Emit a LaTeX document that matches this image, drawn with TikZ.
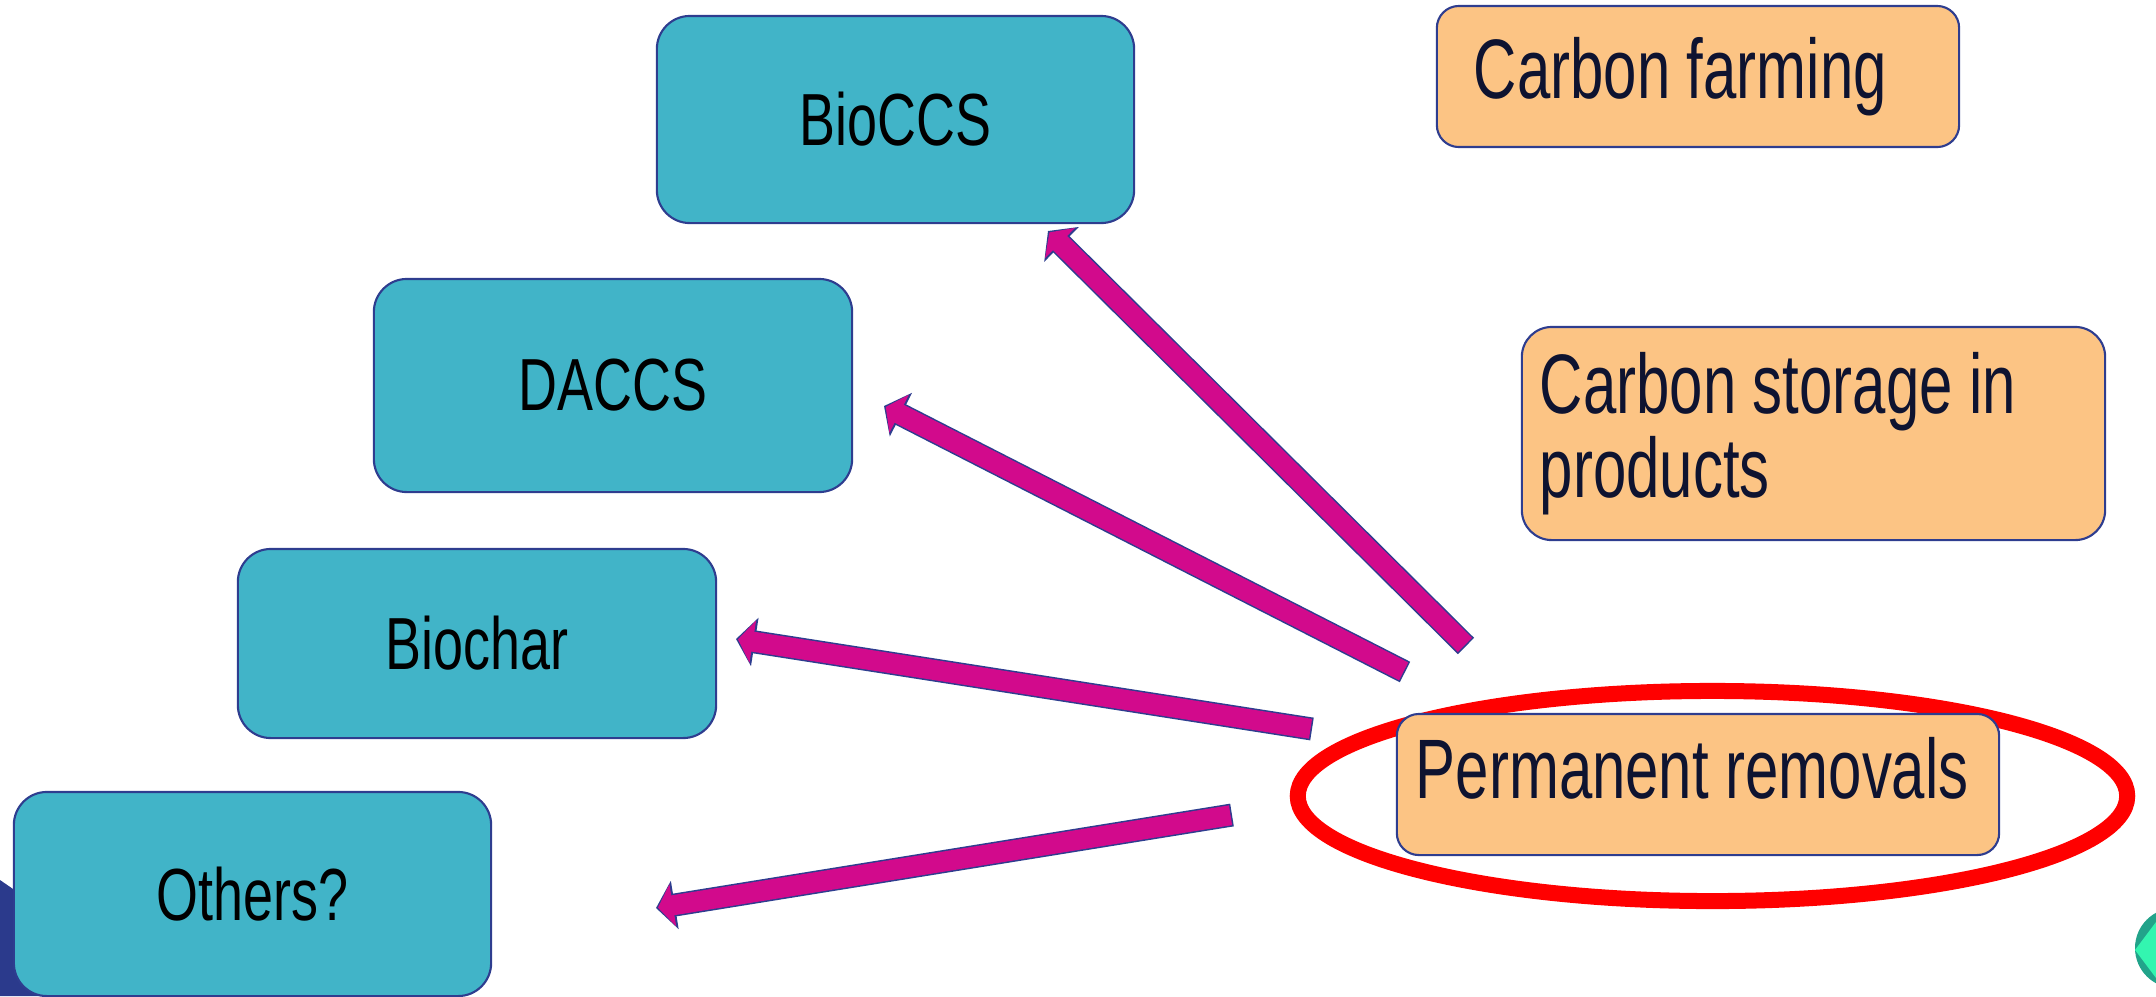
\documentclass[tikz,border=0pt]{standalone}
\usepackage{fontspec}
\setmainfont[FakeStretch=0.73]{Liberation Sans}
\newfontfamily\boxfont[FakeStretch=0.71]{Liberation Sans}
\usetikzlibrary{shapes.geometric,arrows.meta}
\definecolor{tealbox}{HTML}{41B4C8}
\definecolor{orangebox}{HTML}{FCC484}
\definecolor{edgeblue}{HTML}{2E3D8F}
\definecolor{arrowmag}{HTML}{D20A8C}
\definecolor{navytxt}{HTML}{0E1330}
\definecolor{cornerblue}{HTML}{2B3A8C}
\definecolor{dkgreen}{HTML}{22A38A}
\definecolor{ltgreen}{HTML}{33F5B0}
\begin{document}
\begin{tikzpicture}[x=0.01cm,y=-0.01cm,
      cbox/.style={rectangle,rounded corners=0.33cm,draw=edgeblue,line width=0.6pt,
        fill=tealbox,inner sep=0pt,text=black,font=\fontsize{21}{24}\selectfont},
      obox/.style={rectangle,draw=edgeblue,line width=0.6pt,fill=orangebox,
        align=flush left,inner ysep=0pt,text=navytxt,
        font=\boxfont\fontsize{24}{24}\selectfont}]
      \tikzstyle{rim}=[draw=edgeblue,line width=0.23cm,
        -{Triangle[length=0.19cm,width=0.48cm]}]
      \tikzstyle{shaft}=[draw=arrowmag,line width=0.2cm,shorten >=0.02cm,
        shorten <=0.015cm,-{Triangle[length=0.15cm,width=0.42cm]}]
      \useasboundingbox (0,0) rectangle (2156,996);
      % corner marks
      \fill[cornerblue] (0,880) -- (80,935) -- (80,996) -- (0,996) -- cycle;
      \fill[dkgreen] (2175,948) circle (40);
      \fill[ltgreen] (2135,950) -- (2156,922) -- (2156,978) -- cycle;
      % left column
      \node[cbox,minimum width=4.77cm,minimum height=2.07cm] (bioccs) at (895.5,119.5) {BioCCS};
      \node[cbox,minimum width=4.78cm,minimum height=2.13cm] (daccs) at (613,385.5) {DACCS};
      \node[cbox,minimum width=4.78cm,minimum height=1.89cm] (biochar) at (477,643.5) {Biochar};
      \node[cbox,minimum width=4.77cm,minimum height=2.04cm] (others) at (252.5,894) {Others?};
      % right column
      \node[obox,rounded corners=0.22cm,text width=4.48cm,inner xsep=0.37cm,
        minimum height=1.41cm] (farming) at (1698,76.5) {Carbon farming};
      \node[obox,rounded corners=0.3cm,text width=5.47cm,inner xsep=0.18cm,
        minimum height=2.13cm] (storage) at (1813.5,433.5) {Carbon storage in\\products};
      \node[draw=red,line width=0.16cm,ellipse,inner sep=0pt,minimum width=8.29cm,
        minimum height=2.10cm] (ring) at (1712.5,796) {};
      \node[obox,rounded corners=0.22cm,text width=5.64cm,inner xsep=0.19cm,
        minimum height=1.41cm,text depth=0.34cm] (perm) at (1698,784.5) {Permanent removals};
      % arrows
      \coordinate (t1) at (1466,646); \coordinate (h1) at (1048,231);
      \coordinate (t2) at (1405,672); \coordinate (h2) at (884,406);
      \coordinate (t3) at (1312,729); \coordinate (h3) at (736,639);
      \coordinate (t4) at (1232,815); \coordinate (h4) at (656,908);
      \foreach \a/\b in {t1/h1,t2/h2,t3/h3,t4/h4}{
        \draw[rim] (\a) -- (\b);
        \draw[shaft] (\a) -- (\b);}
    \end{tikzpicture}
\end{document}
